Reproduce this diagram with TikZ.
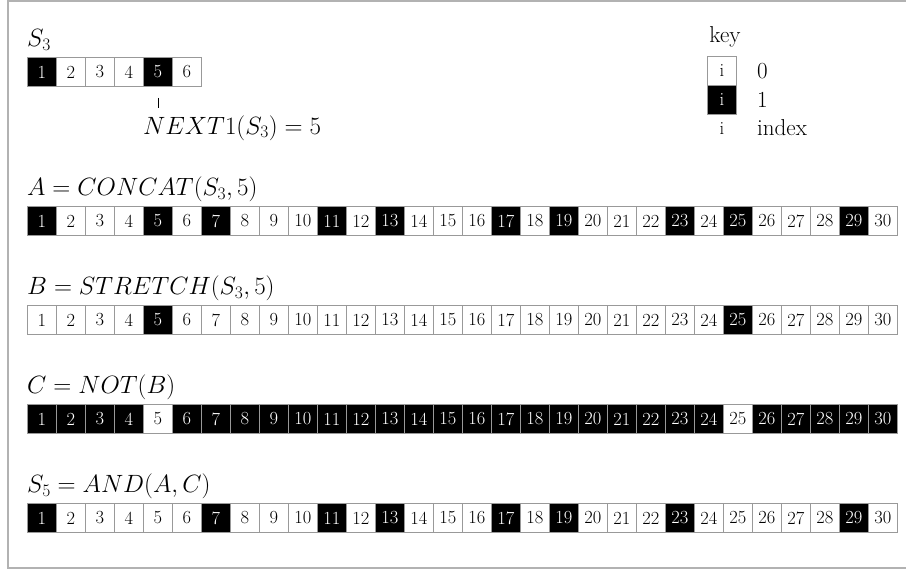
\RequirePackage{fix-cm}
\documentclass[tikz,border=0pt]{standalone}
\usepackage{fontspec}
\newcommand{\bitrow}[3]{%
  \foreach \b [count=\i] in {#3} {%
    \ifnum\b=1 \def\fc{black}\def\tc{white}\else\def\fc{white}\def\tc{black}\fi
    \node[cell,fill=\fc,text=\tc] (#1-\i) at ({27+29*(\i-1)},#2) {\i};
  }%
}
\begin{document}
\begin{tikzpicture}[x=1pt,y=-1pt,
  cell/.style={draw=black!40, line width=0.8pt, minimum width=29pt, minimum height=29pt,
    inner sep=0pt, anchor=north west, font=\fontsize{18.5}{21}\selectfont},
  lbl/.style={anchor=west, inner sep=0pt, font=\fontsize{25}{30}\selectfont},
  keytxt/.style={anchor=west, inner sep=0pt, font=\fontsize{23}{27}\selectfont},
]
\useasboundingbox (0,0) rectangle (906,570);
\draw[black!30, line width=1.5pt] (906,1) -- (8,1) -- (8,568) -- (906,568);

% S3
\node[lbl] (lS3) at (27,40) {$S_3$};
\bitrow{S3}{57}{1,0,0,0,1,0}
\draw[line width=0.8pt] ([yshift=-11pt]S3-5.south) -- ([yshift=-21pt]S3-5.south);
\node[lbl] (next) at (143,128) {$NEXT1(S_3) = 5$};

% key
\node[keytxt, anchor=center] (key) at (725,37) {key};
\node[cell, anchor=center, fill=white] (k0) at (722,70.5) {i};
\node[cell, anchor=center, fill=black, text=white] (k1) at (722,99.5) {i};
\node[inner sep=0pt, font=\fontsize{18.5}{21}\selectfont] (ki) at (722,129) {i};
\node[keytxt] (t0) at (757,71) {0};
\node[keytxt] (t1) at (757,100) {1};
\node[keytxt] (tix) at (757,128) {index};

% A
\node[lbl] (lA) at (27,189) {$A = CONCAT(S_3,5)$};
\bitrow{A}{206}{1,0,0,0,1,0,1,0,0,0,1,0,1,0,0,0,1,0,1,0,0,0,1,0,1,0,0,0,1,0}

% B
\node[lbl] (lB) at (27,288) {$B = STRETCH(S_3,5)$};
\bitrow{B}{305}{0,0,0,0,1,0,0,0,0,0,0,0,0,0,0,0,0,0,0,0,0,0,0,0,1,0,0,0,0,0}

% C
\node[lbl] (lC) at (27,387) {$C = NOT(B)$};
\bitrow{C}{404}{1,1,1,1,0,1,1,1,1,1,1,1,1,1,1,1,1,1,1,1,1,1,1,1,0,1,1,1,1,1}

% S5
\node[lbl] (lS5) at (27,486) {$S_5 = AND(A,C)$};
\bitrow{S5}{503}{1,0,0,0,0,0,1,0,0,0,1,0,1,0,0,0,1,0,1,0,0,0,1,0,0,0,0,0,1,0}
\end{tikzpicture}
\end{document}
